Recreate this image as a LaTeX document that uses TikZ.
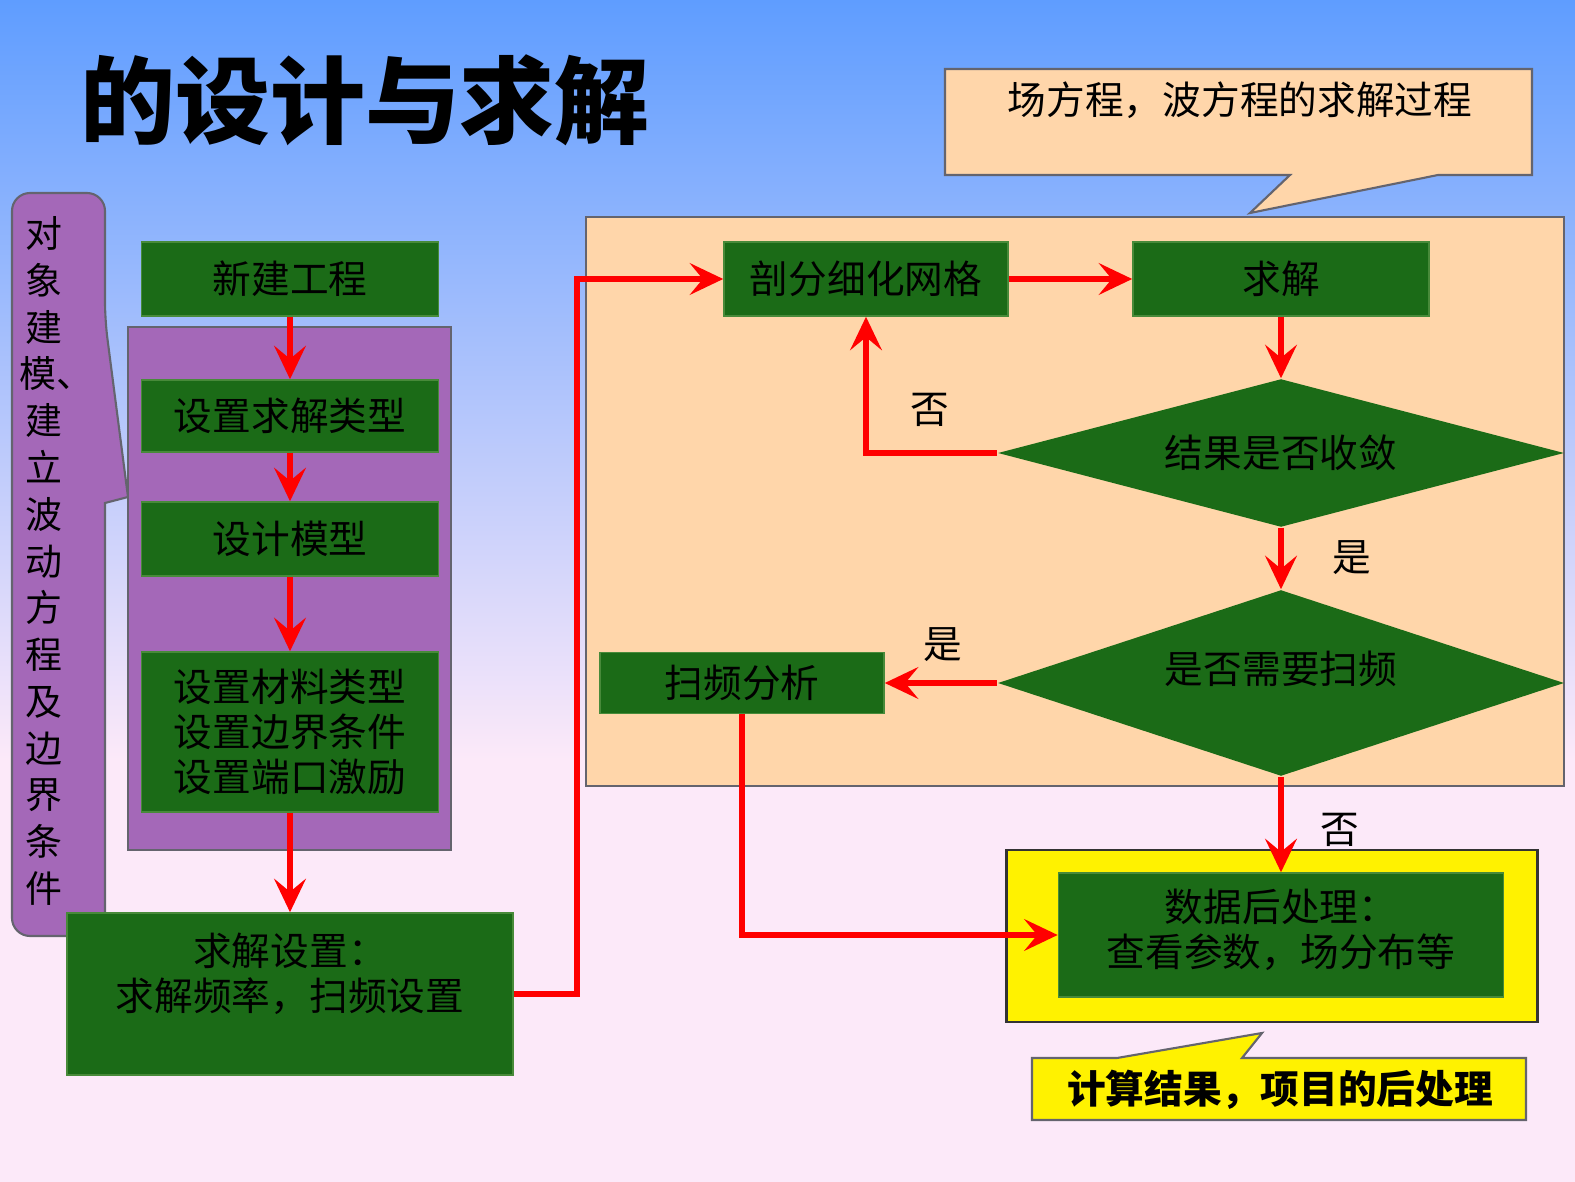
\documentclass[tikz,border=0pt]{standalone}
\usepackage{fontspec}
\newfontfamily\cjk{Noto Sans CJK SC}
\usetikzlibrary{shapes.geometric,arrows.meta}

\definecolor{boxgreen}{RGB}{27,107,23}
\definecolor{boxedge}{RGB}{72,138,58}
\definecolor{panelpurple}{RGB}{164,104,184}
\definecolor{panelpeach}{RGB}{255,214,170}
\definecolor{skyblue}{RGB}{95,157,255}
\definecolor{palepink}{RGB}{252,233,249}
\definecolor{edgegray}{RGB}{100,100,110}

\tikzset{
  procbox/.style={draw=boxedge,line width=0.4pt,fill=boxgreen,inner sep=0pt,align=center,font=\cjk\fontsize{11}{12.8}\selectfont},
  decbox/.style={diamond,fill=boxgreen,inner sep=0pt,aspect=3.8,font=\cjk\fontsize{11}{12.8}\selectfont},
  redarrow/.style={draw=red,line width=1.7pt,-{Stealth[length=9.5pt,width=9pt,inset=3.7pt]}},
  tag/.style={font=\cjk\fontsize{11}{12.8}\selectfont},
}

\begin{document}
\begin{tikzpicture}[x=0.01cm,y=-0.01cm]
\useasboundingbox (0,0) rectangle (1575,1182);

% background
\shade[top color=skyblue,bottom color=palepink] (0,0) rectangle (1575,760);
\fill[palepink] (0,760) rectangle (1575,1182);

% title
\node[font=\cjk\bfseries\fontsize{27}{30}\selectfont] (title) at (365,100) {的设计与求解};

% left callout
\draw[fill=panelpurple,draw=edgegray,line width=0.6pt] (58,193) [rounded corners=0.18cm] -- (105,193) -- (105,320) [sharp corners] -- (128,497) -- (105,503) [rounded corners=0.18cm] -- (105,936) -- (12,936) -- (12,193) [sharp corners] -- cycle;
\node[font=\cjk\fontsize{10.5}{13.3}\selectfont,align=center,inner sep=0pt] (objtext) at (44,561)
  {对\\象\\建\\\hspace*{-0.3em}模\rlap{、}\\建\\立\\波\\动\\方\\程\\及\\边\\界\\条\\件};

% modelling steps
\draw[fill=panelpurple,draw=edgegray,line width=0.6pt] (128,327) rectangle (451,850);
\node[procbox,minimum width=2.97cm,minimum height=0.74cm] (newproj) at (290,279) {新建工程};
\node[procbox,minimum width=2.97cm,minimum height=0.72cm] (soltype) at (290,416) {设置求解类型};
\node[procbox,minimum width=2.97cm,minimum height=0.74cm] (design) at (290,539) {设计模型};
\node[procbox,minimum width=2.97cm,minimum height=1.60cm] (material) at (290,732)
  {设置材料类型\\设置边界条件\\设置端口激励};
\node[procbox,minimum width=4.46cm,minimum height=1.62cm] (setup) at (290,994)
  {求解设置：\\求解频率，扫频设置\\\mbox{}};

\draw[redarrow] (newproj) -- (soltype);
\draw[redarrow] (soltype) -- (design);
\draw[redarrow] (design) -- (material);
\draw[redarrow] (material) -- (setup);

% solving process
\draw[fill=panelpeach,draw=edgegray,line width=0.6pt] (586,217) rectangle (1564,786);
\node[procbox,minimum width=2.84cm,minimum height=0.74cm] (mesh) at (866,279) {剖分细化网格};
\node[procbox,minimum width=2.96cm,minimum height=0.74cm] (solve) at (1281,279) {求解};
\node[decbox,minimum width=5.66cm,minimum height=1.48cm] (conv) at (1281,453) {结果是否收敛};
\node[decbox,minimum width=5.66cm,minimum height=1.86cm] (needsweep) at (1281,683)
  {\raisebox{4pt}[\height][\depth]{是否需要扫频}};
\node[procbox,minimum width=2.84cm,minimum height=0.61cm] (sweep) at (742,683) {扫频分析};

% post processing
\node[draw=black!80,line width=0.8pt,fill=yellow,minimum width=5.31cm,minimum height=1.72cm] (postframe) at (1272,936) {};
\node[procbox,minimum width=4.45cm,minimum height=1.24cm] (post) at (1281,935)
  {\raisebox{1.5pt}[\height][\depth]{数据后处理：}\\\raisebox{1.5pt}[\height][\depth]{查看参数，场分布等}};

\draw[redarrow] (setup.east) -- ++(63,0) |- (mesh.west);
\draw[redarrow] (mesh) -- (solve);
\draw[redarrow] (solve) -- (conv);
\draw[redarrow] (conv.west) -| (mesh.south);
\draw[redarrow] (conv) -- (needsweep);
\draw[redarrow] (needsweep.west) -- (sweep.east);
\draw[redarrow] (needsweep.south) -- (post.north);
\draw[redarrow] (sweep.south) |- (post.west);

\node[tag] (no1) at (930,410) {否};
\node[tag] (yes1) at (1352,558) {是};
\node[tag] (yes2) at (943,645) {是};
\node[tag] (no2) at (1340,830) {否};

% callouts
\draw[fill=panelpeach,draw=edgegray,line width=0.6pt] (945,69) -- (1532,69) -- (1532,175) -- (1438,175) -- (1250,213) -- (1290,175) -- (945,175) -- cycle;
\node[tag] (solvenote) at (1240,100) {场方程，波方程的求解过程};
\draw[fill=yellow,draw=edgegray,line width=0.6pt] (1032,1058) -- (1117,1058) -- (1262,1033) -- (1242,1058) -- (1526,1058) -- (1526,1120) -- (1032,1120) -- cycle;
\node[tag,font=\cjk\bfseries\fontsize{11}{12.8}\selectfont] (postnote) at (1280,1090) {计算结果，项目的后处理};

\end{tikzpicture}
\end{document}
